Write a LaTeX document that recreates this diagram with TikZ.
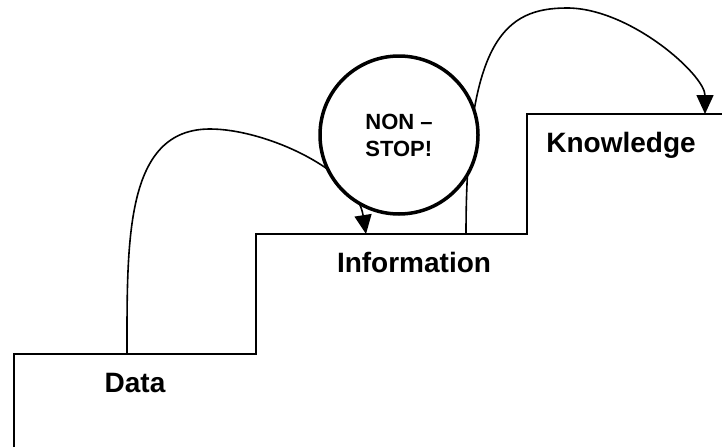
\documentclass[tikz,border=0pt]{standalone}
\usepackage{fontspec}
\setmainfont{Liberation Sans}
\usetikzlibrary{arrows.meta}
\begin{document}
\begin{tikzpicture}[x=1pt,y=-1pt,
  stairline/.style={line width=1.8pt, line join=miter},
  flow/.style={line width=1.6pt, -{Triangle[length=19pt,width=17pt]}},
  steplabel/.style={anchor=base, font=\fontsize{28}{32}\selectfont\bfseries, inner sep=0pt},
  bubble/.style={circle, draw, fill=white, line width=3.5pt, minimum size=158pt, inner sep=0pt,
    align=left, font=\fontsize{22}{27}\selectfont\bfseries}]
\useasboundingbox (0,0) rectangle (722,447);
% staircase corners
\coordinate (s0) at (14,447);
\coordinate (s1) at (14,354);
\coordinate (s2) at (256,354);
\coordinate (s3) at (256,234);
\coordinate (s4) at (527,234);
\coordinate (s5) at (527,114);
\coordinate (s6) at (722,114);
\draw[stairline] (s0) -- (s1) -- (s2) -- (s3) -- (s4) -- (s5) -- (s6);
% connector end points
\coordinate (dataTop) at (127,354);
\coordinate (infoIn) at (366,234);
\coordinate (infoOut) at (466,234);
\coordinate (knowIn) at (705,114);
\coordinate (peak1) at (210,129);
\coordinate (peak2) at (567,8);
% labels
\node[steplabel] (data) at (135,392) {Data};
\node[steplabel] (info) at (414,272) {Information};
\node[steplabel] (know) at (621,152) {Knowledge};
% arrows
\draw[flow] (dataTop) .. controls (127,240) and (125,129) .. (peak1)
  .. controls (265,129) and (356,170) .. (infoIn);
\draw[flow] (infoOut) .. controls (466,40) and (505,8) .. (peak2)
  .. controls (630,8) and (705,75) .. (knowIn);
% circle on top
\node[bubble] (nonstop) at (399,135) {NON –\\STOP!};
\end{tikzpicture}
\end{document}
